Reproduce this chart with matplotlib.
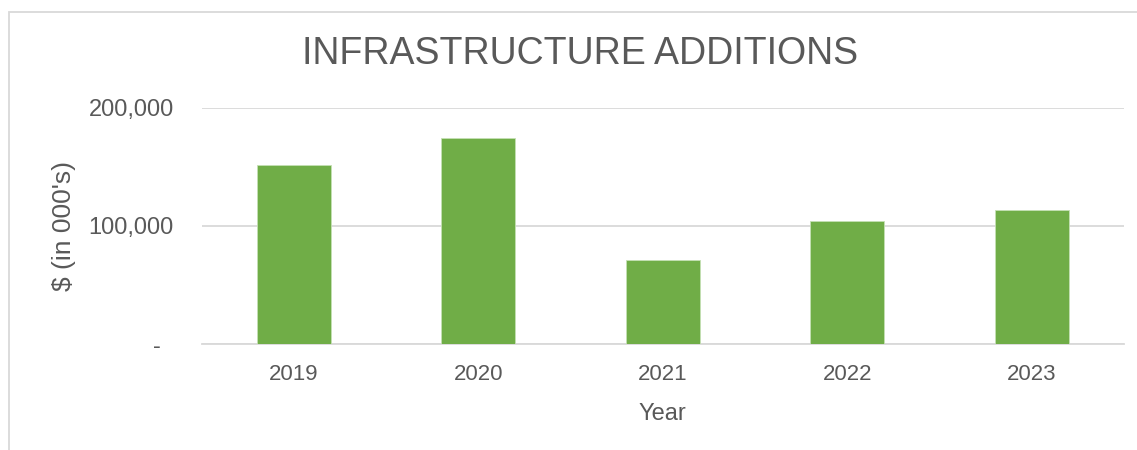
import matplotlib
matplotlib.use("Agg")
import matplotlib.pyplot as plt
from matplotlib.patches import Rectangle
from matplotlib.ticker import FuncFormatter

years = ["2019", "2020", "2021", "2022", "2023"]
values = [151800, 174600, 71000, 104500, 113800]
yticks = [0, 100000, 200000]

TEXT = "#595959"
GRID = "#D9D9D9"
BAR = "#70AD47"

plt.rcParams['font.family'] = ['Liberation Sans', 'DejaVu Sans']

W, H = 1137, 450
fig = plt.figure(figsize=(W / 100, H / 100), dpi=100)
fig.patch.set_facecolor("white")

# chart border (left and top visible)
fig.add_artist(Rectangle((9 / W, -0.1), 1.2, (H - 12) / H + 0.1, transform=fig.transFigure,
                         fill=False, edgecolor=GRID, linewidth=1.3))

ax = fig.add_axes([201.7 / W, 1 - 344.3 / H, (1124 - 201.7) / W, (344.3 - 107.5) / H])
x = range(len(years))
ax.bar(x, values, width=0.4, color=BAR, edgecolor="#C5E0B4", linewidth=0.6, zorder=3)
ax.set_xlim(-0.5, len(years) - 0.5)
ax.set_ylim(0, 200000)
ax.set_yticks(yticks)
ax.yaxis.set_major_formatter(FuncFormatter(lambda v, p: "-  " if v == 0 else f"{int(v):,}"))
ax.set_xticks(list(x))
ax.set_xticklabels(years)
ax.grid(axis="y", color=GRID, linewidth=1.3, zorder=0)
ax.set_axisbelow(True)
for s in ["top", "right", "left"]:
    ax.spines[s].set_visible(False)
ax.spines["bottom"].set_color(GRID)
ax.spines["bottom"].set_linewidth(1.3)
ax.tick_params(axis="x", length=0, colors=TEXT, labelsize=16, pad=14)
ax.tick_params(axis="y", length=0, colors=TEXT, labelsize=17, pad=20)
ax.set_xlabel("Year", fontsize=17, color=TEXT, labelpad=13)
ax.set_ylabel("$ (in 000's)", fontsize=19, color=TEXT, labelpad=9)

fig.text(580 / W, 1 - 54 / H, "INFRASTRUCTURE ADDITIONS", ha="center", va="center",
         fontsize=27, color=TEXT)

fig.savefig("out.png", dpi=100)
